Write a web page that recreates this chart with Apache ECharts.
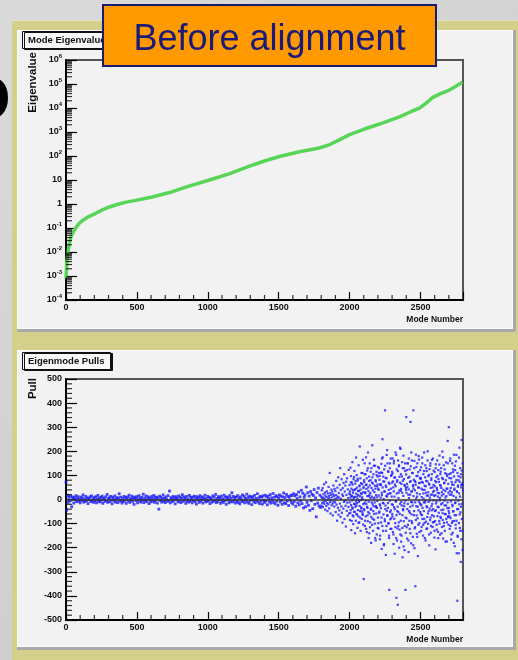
<!DOCTYPE html>
<html>
<head>
<meta charset="utf-8">
<script src="https://cdn.jsdelivr.net/npm/echarts@6/dist/echarts.min.js"></script>
<style>
  html, body { margin: 0; padding: 0; background: #d3d3d3; }
  #chart { width: 518px; height: 660px; }
</style>
</head>
<body>
<div id="chart"></div>
<script>
// ---- Eigenvalue spectrum (mode number vs eigenvalue) ----
const modeNumbers = [0, 5, 13, 25, 37, 55, 72, 95, 119, 160, 213, 260, 307, 360, 425, 500, 600, 730, 850, 1000,
  1150, 1294, 1400, 1505, 1646, 1787, 1860, 1928, 2000, 2100, 2211, 2352, 2443, 2493, 2540, 2585, 2634, 2704, 2750, 2796];
const eigenvalues = [8e-4, 3e-3, 9e-3, 0.025, 0.045, 0.075, 0.11, 0.16, 0.21, 0.3, 0.42, 0.58, 0.75, 0.95, 1.2, 1.45, 1.9, 3.0, 5.2, 9.5,
  18, 38, 62, 95, 150, 215, 300, 470, 780, 1300, 2150, 4300, 7500, 9800, 16000, 27000, 38000, 56000, 80000, 120000];

// ---- Eigenmode pulls: well-constrained modes 0..1795, sampled every 5 modes ----
const bandStart = 0, bandStep = 5;
const bandPulls = [
  72,-44,18,-12,9,-6,14,-3,-30,11,5,-15,8,-2,16,-9,3,12,-7,1,-14,10,-4,6,19,-11,2,-8,13,-5,7,-17,4,-1,11,-9,15,-6,3,-12,
  8,-4,12,-14,2,17,-7,5,-10,9,-3,14,-16,6,0,-8,11,-5,21,-12,4,7,-9,13,-2,-18,10,3,-6,15,-11,1,8,-13,5,24,-7,10,-4,-15,
  6,-9,13,-3,9,-16,2,11,-6,18,-12,4,-1,14,-8,7,-20,10,3,-5,12,-14,1,16,-7,5,-11,9,-2,22,-13,6,-4,15,-9,2,11,-17,7,-3,
  -10,13,4,-6,17,-12,8,-2,10,-15,5,-40,14,-4,9,-11,3,19,-8,6,-13,11,0,-7,16,-5,35,-14,8,2,-9,13,-3,7,-18,12,-1,5,-10,15,
  -6,9,-13,4,20,-8,11,-3,6,-16,13,-5,2,-11,17,-7,9,1,-14,10,-4,14,-9,5,-19,12,-2,8,-12,16,-6,3,11,-15,7,-1,18,-10,4,-8,
  13,-5,9,-17,6,2,-11,15,-7,10,-3,21,-13,4,-9,12,-1,7,-16,14,-6,3,-12,18,-4,9,-20,11,-2,6,-14,16,-8,5,28,-10,13,-3,8,-15,
  10,-7,16,-12,4,-18,11,2,-9,19,-5,13,-14,6,-2,22,-11,8,-16,14,-4,9,-21,12,1,-8,17,-13,5,-3,24,-10,7,-17,13,-6,10,-19,15,-2,
  -12,18,-6,11,-22,14,3,-9,20,-15,7,-4,25,-13,9,-18,16,-7,12,-24,5,19,-10,14,-3,-20,11,27,-14,8,-17,21,-6,13,-25,10,-2,18,-12,16,
  -19,24,-8,15,-28,20,4,-14,31,-22,11,-6,38,-17,26,-35,9,19,-30,52,-12,28,-24,14,-45,33,-5,22,-38,17,41,-20,7,-72,29,-15,47,-27,18,-33
];

// ---- Eigenmode pulls: weakly constrained modes 1800..2798 (even modes) ----
const wideStart = 1800, wideStep = 2;
const widePulls = [
  12,-25,38,5,-14,47,-31,8,22,-9,63,-18,3,29,-42,16,-6,71,-27,10,34,-15,-48,25,1,-20,52,14,-37,6,110,-11,27,-58,19,-3,41,-24,9,33,-16,-66,22,58,-8,15,-29,44,3,-12,
  35,-52,18,77,-21,5,-88,49,12,-34,92,-63,27,8,-45,61,-17,130,-72,40,3,-29,84,-55,21,-96,47,15,-38,69,-10,105,-81,33,-4,58,-26,-112,74,19,-47,88,-13,-67,42,6,-31,123,-58,25,
  60,-85,21,132,-44,97,-127,15,70,-33,155,-66,38,-102,84,9,-51,118,-19,-140,66,43,-88,174,-25,101,-62,12,-118,79,35,-70,142,-9,-95,55,220,-48,88,-130,26,-37,110,-81,64,3,-58,165,-104,47,
  -330,80,-45,150,-110,30,105,-70,175,-18,62,-135,120,-35,-90,195,50,-160,14,95,-58,150,-115,27,80,-42,-180,130,-12,70,225,-80,38,-130,105,-28,165,-60,8,-100,140,45,-170,75,-32,115,-145,55,-6,95,
  -75,135,-120,40,110,-50,98,-165,-25,62,60,-95,148,-205,18,110,250,175,-130,75,-16,-190,125,33,-82,370,-40,90,-230,52,-110,185,12,-65,150,-35,115,-100,70,-150,-375,25,130,-52,-122,170,45,-78,102,-20,
  115,-70,170,-135,50,-185,150,-32,90,-225,62,-98,195,-8,-160,-408,125,74,-48,-120,-437,162,-110,28,138,-200,94,-60,215,-145,36,105,-175,65,-25,155,-118,-240,78,-45,182,-90,130,-16,-210,57,118,-375,-138,40,
  342,-78,122,-162,52,150,-105,20,-218,170,-48,94,-122,73,-30,322,138,-182,32,-90,162,-12,110,-155,60,370,45,-65,130,-202,77,-115,-360,61,186,-28,97,-142,12,150,-78,-235,114,-45,49,166,-98,69,-16,122,
  90,-61,134,-24,-114,73,174,-81,40,-150,105,4,-48,195,-97,57,-12,142,-170,28,77,-122,118,-32,-73,162,16,-101,97,-48,65,-190,126,-4,-85,150,48,-138,81,-28,105,-65,20,-114,170,-40,61,-93,36,-158,
  114,-48,77,-207,146,-16,93,-105,48,162,-69,28,-134,122,-32,73,-89,182,-4,-146,105,57,-77,130,-44,16,-114,199,-57,85,-162,40,142,-97,69,-24,-130,109,8,-61,154,-81,45,-174,97,-36,243,-73,65,-105,
  300,-57,89,-122,36,170,-77,109,-166,20,73,-97,150,-28,-138,114,-48,61,186,-89,45,-194,122,-12,-105,158,-65,81,-223,32,-420,-150,53,-40,97,-223,174,-20,73,-118,130,-53,-259,105,61,247,-81,61,-130,150
];

// ---- Eigenmode pulls: weakly constrained modes 2001..2799 (odd modes) ----
const oddStart = 2001, oddStep = 2;
const oddPulls = [
  -12,34,-56,8,71,-23,45,-89,15,-4,62,-37,28,-70,5,93,-18,40,-52,11,-30,77,-8,24,-61,49,-15,2,86,-44,19,-97,36,-6,58,-27,13,-75,41,-2,68,-33,22,-50,9,110,-64,30,-19,53,
  -40,72,-15,105,-88,26,-5,60,-122,44,88,-30,14,-66,130,-52,35,-9,77,-140,20,58,-95,6,115,-38,-72,48,12,-105,92,-20,66,-48,3,140,-84,31,-12,57,-160,80,-27,18,-58,101,-35,9,62,-118,
  45,-98,17,130,-55,82,-20,-150,64,8,-36,112,-75,28,170,-110,50,-14,95,-62,2,-185,74,33,-90,140,-25,58,-130,15,88,-47,205,-68,22,-15,117,-98,40,-160,65,-5,150,-82,26,-45,98,-122,12,70,
  -60,108,-22,75,-145,34,160,-80,12,-40,92,-115,55,-8,185,-65,25,-170,80,-30,118,-52,6,-95,142,38,-125,70,-18,210,-88,44,-10,-150,96,28,-65,130,-40,15,-195,85,-28,60,-110,150,-5,-75,48,104,
  28,-115,65,-40,150,-18,90,-170,42,6,-88,125,-55,20,-140,76,-10,195,-62,35,-98,110,-25,55,-190,14,82,-48,160,-120,38,-12,72,-85,4,135,-66,26,-155,98,-30,50,-105,180,-8,68,-135,22,88,-52,
  -20,86,-130,45,10,-65,150,-35,70,-105,25,-12,118,-80,40,-160,92,-5,55,-92,130,-28,16,-120,75,200,-58,30,-10,102,-145,62,-38,8,140,-75,20,-110,88,-45,165,-18,50,-95,32,-4,120,-70,15,-130,
  55,-90,18,130,-45,72,-8,-125,40,98,-30,12,-160,85,-55,26,145,-100,6,60,-72,115,-20,48,-140,30,90,-15,-85,175,-42,22,-110,68,-5,125,-60,35,-175,80,-25,14,105,-95,45,-12,150,-70,28,-48,
  -35,105,-70,20,160,-110,48,-8,88,-145,30,62,-22,-90,125,-50,15,-180,96,40,-65,140,-15,72,-120,8,185,-88,34,-40,110,-155,58,-5,80,-98,25,215,-62,12,-130,92,-30,50,-165,120,-18,66,-210,38
];

// Axis ranges
const modeRange = [0, 2800];
const decadeRange = [-4, 6];      // log10 of eigenvalue
const pullRange = [-500, 500];

const SANS = '"Liberation Sans", Arial, Helvetica, sans-serif';

const eigenData = modeNumbers.map((m, i) => [m, Math.log10(eigenvalues[i])]);
const bandData = bandPulls.map((p, i) => [bandStart + i * bandStep, p]);
const wideData = widePulls.map((p, i) => [wideStart + i * wideStep, p])
  .concat(oddPulls.map((p, i) => [oddStart + i * oddStep, p]));

// Minor tick positions (drawn as tiny marks sitting on the axes)
const logMinor = [];
for (let d = decadeRange[0]; d < decadeRange[1]; d++) {
  for (let k = 2; k <= 9; k++) logMinor.push([modeRange[0], d + Math.log10(k)]);
}
const modeMinorTop = [], modeMinorBottom = [];
for (let m = 100; m < modeRange[1]; m += 100) {
  if (m % 500 !== 0) { modeMinorTop.push([m, decadeRange[0]]); modeMinorBottom.push([m, pullRange[0]]); }
}
const pullMinor = [];
for (let v = pullRange[0] + 20; v < pullRange[1]; v += 20) {
  if (v % 100 !== 0) pullMinor.push([modeRange[0], v]);
}

const chart = echarts.init(document.getElementById('chart'), null, { renderer: 'canvas', width: 518, height: 660 });

const tickLabel = { fontFamily: SANS, fontWeight: 'bold', fontSize: 9, color: '#111' };

function modeAxis(grid) {
  return {
    gridIndex: grid, type: 'value', min: modeRange[0], max: modeRange[1], interval: 500,
    axisLine: { show: true, onZero: false, lineStyle: { color: '#000', width: 2 } },
    axisTick: { show: true, inside: true, length: 8, lineStyle: { color: '#000', width: 1.2 } },
    splitLine: { show: false },
    axisLabel: Object.assign({ margin: 3, formatter: v => (v > 2500 ? '' : String(v)) }, tickLabel),
    name: 'Mode Number', nameLocation: 'end', nameGap: 0,
    nameTextStyle: { fontFamily: SANS, fontWeight: 'bold', fontSize: 8.5, color: '#111', align: 'right', verticalAlign: 'top', padding: [15, 0, 0, 0] }
  };
}
function yName(text, gap) {
  return {
    name: text, nameLocation: 'end', nameRotate: 90, nameGap: gap,
    nameTextStyle: { fontFamily: SANS, fontWeight: 'bold', fontSize: 11.5, color: '#111', align: 'right', verticalAlign: 'bottom', padding: [0, 0, 27, 0] }
  };
}
function tickMarks(xi, yi, data, size, offset) {
  return {
    type: 'scatter', xAxisIndex: xi, yAxisIndex: yi, data: data, symbol: 'rect',
    symbolSize: size, symbolOffset: offset, clip: false, silent: true, z: 4,
    itemStyle: { color: '#000' }
  };
}
function titleBox(text, top) {
  return {
    text: text, left: 22, top: top, padding: [3, 6, 3, 6],
    backgroundColor: '#f8f8f8', borderColor: '#111', borderWidth: 1,
    shadowColor: '#111', shadowOffsetX: 2, shadowOffsetY: 1,
    textStyle: { fontFamily: SANS, fontWeight: 'bold', fontSize: 9.5, color: '#111', lineHeight: 12 }
  };
}

const option = {
  animation: false,
  backgroundColor: 'transparent',
  title: [titleBox('Mode Eigenvalues', 31), titleBox('Eigenmode Pulls', 352)],
  grid: [
    { left: 66, top: 60, width: 397, height: 240, show: true, borderColor: '#555', borderWidth: 2, backgroundColor: 'transparent' },
    { left: 66, top: 379, width: 397, height: 241, show: true, borderColor: '#555', borderWidth: 2, backgroundColor: 'transparent' }
  ],
  xAxis: [modeAxis(0), modeAxis(1)],
  yAxis: [
    Object.assign({
      gridIndex: 0, type: 'value', min: decadeRange[0], max: decadeRange[1], interval: 1,
      axisLine: { show: true, onZero: false, lineStyle: { color: '#000', width: 2 } },
      axisTick: { show: true, inside: true, length: 11, lineStyle: { color: '#000', width: 1.2 } },
      splitLine: { show: false },
      axisLabel: {
        margin: 4, color: '#111',
        formatter: v => (v === 0 ? '{b|1}' : v === 1 ? '{b|10}' : '{b|10}{s|' + v + '}'),
        rich: {
          b: { fontFamily: SANS, fontWeight: 'bold', fontSize: 9, color: '#111', lineHeight: 14, verticalAlign: 'middle' },
          s: { fontFamily: SANS, fontWeight: 'bold', fontSize: 6, color: '#111', lineHeight: 14, verticalAlign: 'top' }
        }
      }
    }, yName('Eigenvalue', 8)),
    Object.assign({
      gridIndex: 1, type: 'value', min: pullRange[0], max: pullRange[1], interval: 100,
      axisLine: { show: true, onZero: false, lineStyle: { color: '#000', width: 2 } },
      axisTick: { show: true, inside: true, length: 11, lineStyle: { color: '#000', width: 1.2 } },
      splitLine: { show: false },
      axisLabel: Object.assign({ margin: 4 }, tickLabel)
    }, yName('Pull', 1))
  ],
  series: [
    tickMarks(0, 0, logMinor, [6, 1.2], [3, 0]),
    tickMarks(0, 0, modeMinorTop, [1.2, 5], [0, -2.5]),
    tickMarks(1, 1, modeMinorBottom, [1.2, 5], [0, -2.5]),
    tickMarks(1, 1, pullMinor, [6, 1.2], [3, 0]),
    {
      type: 'line', xAxisIndex: 0, yAxisIndex: 0, data: eigenData, symbol: 'none', silent: true,
      lineStyle: { color: '#58d558', width: 3.5 }
    },
    {
      type: 'scatter', xAxisIndex: 1, yAxisIndex: 1, data: bandData, symbol: 'rect', symbolSize: 2.8, silent: true,
      itemStyle: { color: '#1a1aff' }
    },
    {
      type: 'scatter', xAxisIndex: 1, yAxisIndex: 1, data: wideData, symbol: 'rect', symbolSize: 2.2, silent: true,
      itemStyle: { color: '#1a1aff' },
      markLine: {
        silent: true, symbol: 'none', label: { show: false },
        lineStyle: { color: '#333', width: 1.5, type: 'solid' },
        data: [{ yAxis: 0 }]
      }
    }
  ],
  graphic: [
    // slide background
    { type: 'rect', z: -20, shape: { x: 0, y: 0, width: 518, height: 660 },
      style: { fill: { type: 'linear', x: 0, y: 0, x2: 1, y2: 1, colorStops: [{ offset: 0, color: '#dadada' }, { offset: 1, color: '#c8c8c8' }] } } },
    { type: 'text', z: -19, style: { text: 'o', x: 11, y: 137, align: 'right', verticalAlign: 'bottom', textAlign: 'right', textVerticalAlign: 'bottom',
      font: 'bold 80px "Liberation Sans", Arial, sans-serif', fill: '#000' } },
    // canvas frame
    { type: 'rect', z: -18, shape: { x: 12, y: 20, width: 506, height: 640 }, style: { fill: '#d4cf8b' } },
    { type: 'rect', z: -17, shape: { x: 12, y: 20, width: 506, height: 1 }, style: { fill: '#e6e3bf' } },
    // pads with bevel
    { type: 'rect', z: -16, shape: { x: 17, y: 30, width: 499, height: 302 }, style: { fill: '#a9a9a9' } },
    { type: 'rect', z: -15, shape: { x: 17, y: 30, width: 496, height: 299 }, style: { fill: '#fbfbfb' } },
    { type: 'rect', z: -14, shape: { x: 18, y: 31, width: 494, height: 297 }, style: { fill: '#f2f2f2' } },
    { type: 'rect', z: -16, shape: { x: 17, y: 350, width: 499, height: 300 }, style: { fill: '#a9a9a9' } },
    { type: 'rect', z: -15, shape: { x: 17, y: 350, width: 496, height: 297 }, style: { fill: '#fbfbfb' } },
    { type: 'rect', z: -14, shape: { x: 18, y: 351, width: 494, height: 295 }, style: { fill: '#f2f2f2' } },
    // slide caption
    { type: 'rect', z: 100, shape: { x: 103, y: 5, width: 333, height: 61 },
      style: { fill: '#ff9900', stroke: '#1a1a6e', lineWidth: 2 } },
    { type: 'text', z: 101, style: { text: 'Before alignment', x: 269.5, y: 40, align: 'center', verticalAlign: 'middle',
      textAlign: 'center', textVerticalAlign: 'middle', font: '36px "Liberation Sans", Arial, sans-serif', fill: '#1a1a78' } }
  ]
};

chart.setOption(option);
</script>
</body>
</html>
